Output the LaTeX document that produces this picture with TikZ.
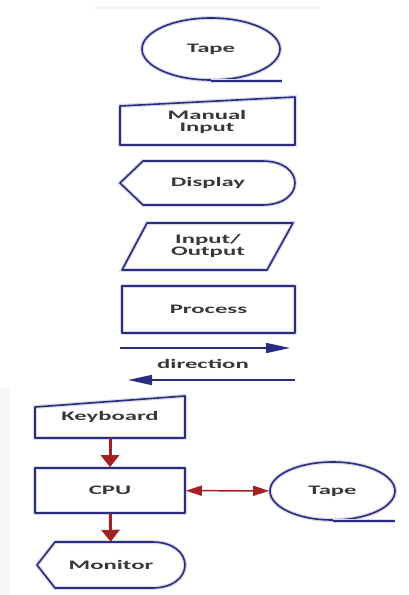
\documentclass[tikz,border=0pt]{standalone}
\usepackage{fontspec}
\newfontfamily\lblfont[FakeStretch=1.9]{Carlito}
\usetikzlibrary{arrows.meta}
\usetikzlibrary{shapes.geometric}
\definecolor{navy}{RGB}{42,44,128}
\definecolor{darkred}{RGB}{165,32,36}
\definecolor{textgray}{RGB}{55,55,60}

\begin{document}
\begin{tikzpicture}[x=1pt,y=-1pt,
    outline/.style={draw=navy, line width=1.6pt, line join=round,
        preaction={draw=navy!18, line width=4pt}},
    lbl/.style={font=\lblfont\bfseries\fontsize{13}{12.5}\selectfont,
        text=textgray, align=center, inner sep=0pt},
    tapeshape/.style={ellipse, outline, lbl},
    redarrow/.style={darkred, line width=3pt, -{Triangle[width=18pt,length=12pt]}},
    twoway/.style={darkred, line width=1.5pt,
        {Triangle[width=10pt,length=16pt]}-{Triangle[width=10pt,length=16pt]}},
    bluearrow/.style={navy, line width=1.5pt, -{Triangle[width=10pt,length=24pt]}}
]
    \useasboundingbox (0,0) rectangle (409,595);
    \fill[black!5] (95,6) rectangle (320,9);
    \fill[black!3] (0,388) rectangle (10,595);

    % symbols
    \node[tapeshape, minimum width=138pt, minimum height=62pt] (tape) at (211,49) {Tape};
    \draw[outline] (tape.south) -- ++(71,0);

    \node[lbl] (manual) at (207,122) {Manual\\Input};
    \draw[outline] (120,106) -- (295,97) -- (295,145) -- (120,145) -- cycle;

    \node[lbl] (display) at (208,183) {Display};
    \draw[outline] (120,183) -- (143,161) -- (262,161)
        .. controls (306,161) and (306,205) .. (262,205) -- (143,205) -- cycle;

    \node[lbl] (io) at (208,246) {Input/\\Output};
    \draw[outline] (122,270) -- (147,223) -- (293,223) -- (267,270) -- cycle;

    \node[lbl, outline, minimum width=173pt, minimum height=47pt] (process) at (208.5,309.5) {Process};

    \coordinate (rfrom) at (120,348);
    \coordinate (rto) at (290,348);
    \coordinate (lfrom) at (295,380);
    \coordinate (lto) at (128,380);
    \draw[bluearrow] (rfrom) -- (rto);
    \node[lbl] (dir) at (203,364) {direction};
    \draw[bluearrow] (lfrom) -- (lto);

    % example
    \node[lbl, minimum width=150pt, minimum height=43pt] (kbd) at (110,416.5) {Keyboard};
    \draw[outline] (35,407) -- (185,396) -- (185,438) -- (35,438) -- cycle;

    \node[lbl, outline, minimum width=150pt, minimum height=45pt] (cpu) at (110,490.5) {CPU};

    \node[lbl, minimum width=148pt, minimum height=46pt] (monitor) at (111,565) {Monitor};
    \draw[outline] (37,565) -- (55,542) -- (152,542)
        .. controls (196,542) and (196,588) .. (152,588) -- (55,588) -- cycle;

    \node[tapeshape, minimum width=125pt, minimum height=58pt] (tape2) at (332.5,491) {Tape};
    \draw[outline] (tape2.south) -- ++(62,0);

    \draw[redarrow] (kbd) -- (cpu);
    \draw[redarrow] (cpu) -- (monitor);
    \draw[twoway] (cpu) -- (tape2);
\end{tikzpicture}
\end{document}
